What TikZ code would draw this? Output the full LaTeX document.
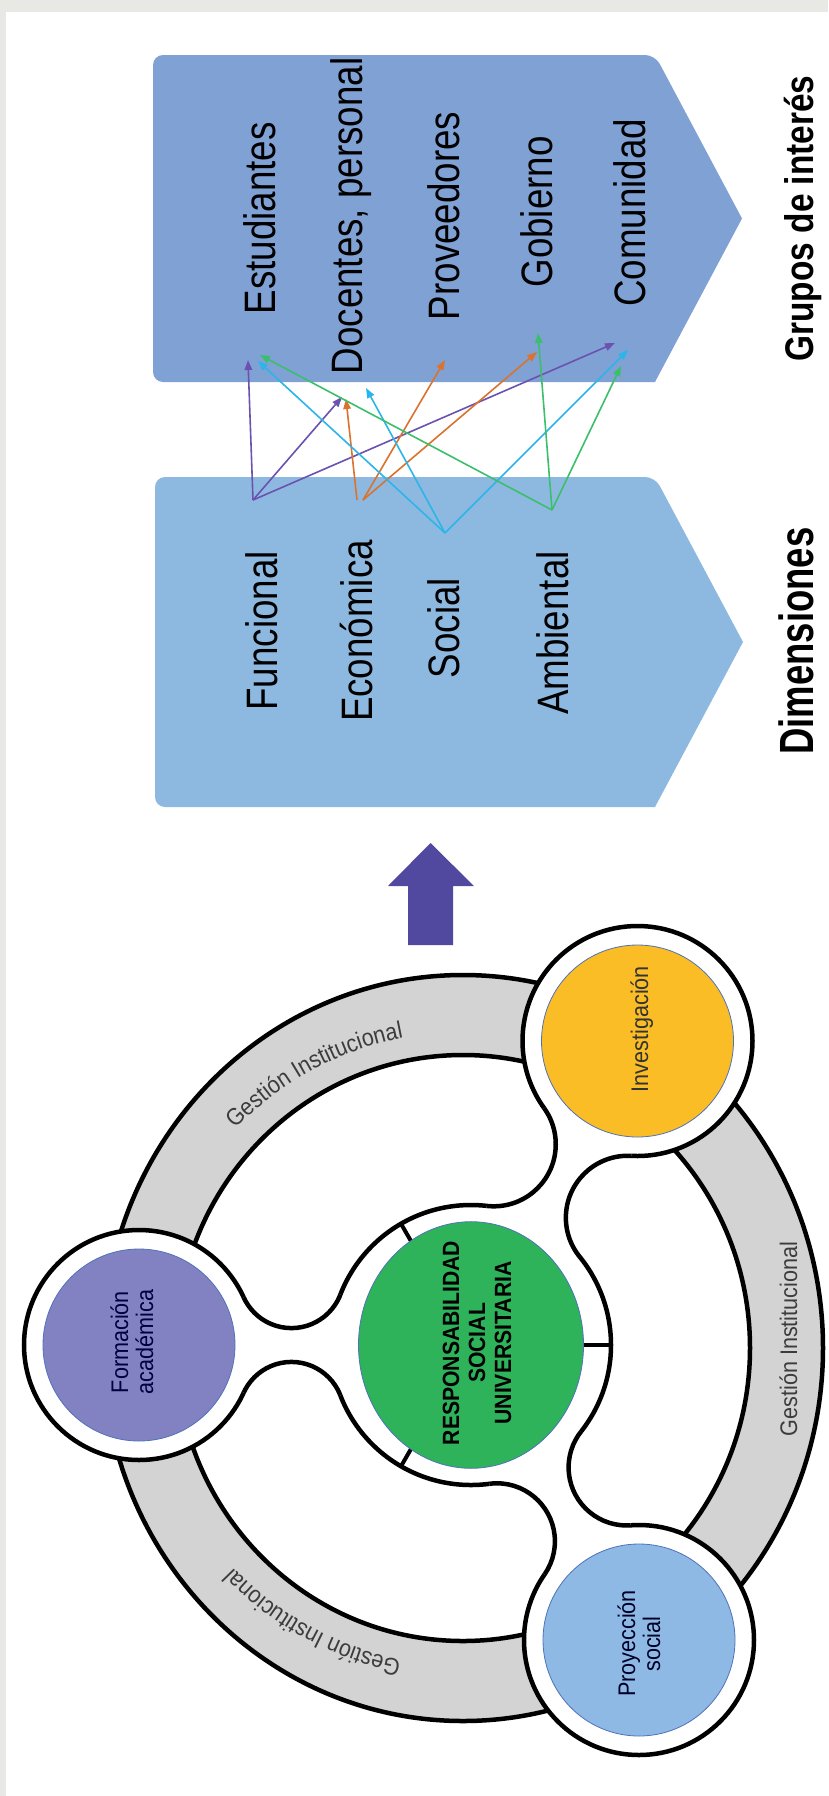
\documentclass[tikz,border=0pt]{standalone}
\usepackage{fontspec}
\setmainfont{Liberation Sans}
\newfontfamily\nsans[FakeStretch=0.835]{Liberation Sans}
\newfontfamily\msans[FakeStretch=0.9]{Liberation Sans}
\newcommand{\gestfont}{\msans\fontsize{24}{26}\selectfont}
\usetikzlibrary{calc,arrows.meta,decorations.text}
\definecolor{bggray}{HTML}{E8E9E4}
\definecolor{boxtop}{HTML}{7FA1D4}
\definecolor{boxbot}{HTML}{8DB9E1}
\definecolor{bigarrow}{HTML}{5148A0}
\definecolor{cpurple}{HTML}{6B52B0}
\definecolor{corange}{HTML}{D9732E}
\definecolor{ccyan}{HTML}{2BB5E8}
\definecolor{cgreen}{HTML}{3CBF6C}
\definecolor{ringgray}{HTML}{D3D3D3}
\definecolor{formfill}{HTML}{8282C2}
\definecolor{invfill}{HTML}{FBBD26}
\definecolor{proyfill}{HTML}{8DB9E4}
\definecolor{rsufill}{HTML}{2EB35A}
\definecolor{circline}{HTML}{4F72B8}
\definecolor{gtext}{HTML}{3C3C3C}
\begin{document}
\begin{tikzpicture}[x=1pt,y=-1pt,
  bigtxt/.style={font=\nsans\fontsize{44}{48}\selectfont, rotate=90, anchor=base, inner sep=0pt, text=black},
  ttl/.style={font=\nsans\bfseries\fontsize{40}{44}\selectfont, rotate=90, anchor=base, inner sep=0pt, text=black},
  smtxt/.style={font=\msans\fontsize{24}{26}\selectfont, rotate=90, anchor=base, inner sep=0pt},
  rsutxt/.style={font=\msans\bfseries\fontsize{23.5}{26}\selectfont, rotate=90, anchor=base, inner sep=0pt, text=black},
  rel/.style={line width=1.6pt, -{Triangle[length=10pt,width=7.5pt]}},
  outl/.style={line width=4.5pt, draw=black},
  gest/.style={decorate, decoration={text along path, text align=center, text color=gtext, text={|\gestfont|Gestión Institucional}}}]

\useasboundingbox (0,0) rectangle (828,1796);
\fill[bggray] (0,0) rectangle (828,1796);
\fill[white] (6,12) rectangle (828,1796);

% ---------- boxes ----------
\fill[boxtop] (655,382) [rounded corners=10pt] -- (153,382) -- (153,55) -- (655,55) [sharp corners] -- (742,218.5) -- cycle;
\fill[boxbot] (655,807) [rounded corners=10pt] -- (155,807) -- (155,477) -- (655,477) [sharp corners] -- (743,642) -- cycle;

\node[bigtxt] (est) at (275,218.5) {Estudiantes};
\node[bigtxt] (doc) at (362,216) {Docentes, personal};
\node[bigtxt] (prov) at (459,216) {Proveedores};
\node[bigtxt] (gob) at (552,212) {Gobierno};
\node[bigtxt] (com) at (645,213) {Comunidad};

\node[bigtxt] (fun) at (277,631) {Funcional};
\node[bigtxt] (eco) at (372,631) {Económica};
\node[bigtxt] (soc) at (459,628) {Social};
\node[bigtxt] (amb) at (568,633) {Ambiental};

\node[ttl] (gi) at (813,218.5) {Grupos de interés};
\node[ttl, font=\nsans\bfseries\fontsize{48}{52}\selectfont] (dim) at (813,641) {\scalebox{0.91}[1]{Dimensiones}};

% ---------- relation arrows ----------
\coordinate (oF) at (253,500);
\coordinate (oE1) at (357,500);
\coordinate (oE2) at (363,500);
\coordinate (oS) at (445,533);
\coordinate (oA) at (552,510);
\coordinate (pF1) at (248,360);
\coordinate (pF2) at (342,397);
\coordinate (pF3) at (615,343);
\coordinate (pE1) at (346,399);
\coordinate (pE2) at (445,360);
\coordinate (pE3) at (537,352);
\coordinate (pS1) at (258,361);
\coordinate (pS2) at (366,388);
\coordinate (pS3) at (628,350);
\coordinate (pA1) at (260,355);
\coordinate (pA2) at (538,333);
\coordinate (pA3) at (621,366);

\draw[rel, color=cpurple] (oF) -- (pF1);
\draw[rel, color=cpurple] (oF) -- (pF2);
\draw[rel, color=cpurple] (oF) -- (pF3);
\draw[rel, color=corange] (oE1) -- (pE1);
\draw[rel, color=corange] (oE2) -- (pE2);
\draw[rel, color=corange] (oE2) -- (pE3);
\draw[rel, color=ccyan] (oS) -- (pS1);
\draw[rel, color=ccyan] (oS) -- (pS2);
\draw[rel, color=ccyan] (oS) -- (pS3);
\draw[rel, color=cgreen] (oA) -- (pA1);
\draw[rel, color=cgreen] (oA) -- (pA2);
\draw[rel, color=cgreen] (oA) -- (pA3);

% ---------- big arrow ----------
\fill[bigarrow] (408,945) -- (408,886) -- (388,886) -- (430.5,843) -- (474,886) -- (453,886) -- (453,945) -- cycle;

% ---------- ring ----------
\coordinate (O) at (463,1348);
\fill[ringgray, even odd rule] (O) ellipse[x radius=360, y radius=373] (O) ellipse[x radius=287, y radius=293];
\draw[outl] (O) ellipse[x radius=360, y radius=373];
\draw[outl] (O) ellipse[x radius=287, y radius=293];

\path[gest] (O) ++(-148.5:316) arc[start angle=-148.5, end angle=-88.5, radius=316];
\path[gest] (O) ++(88.7:318) arc[start angle=88.7, end angle=148.7, radius=318];
\node[smtxt, text=gtext] (gestR) at (797,1339) {Gestión Institucional};

% ---------- central blob ----------
\coordinate (C) at (471,1345);
\coordinate (SF) at (139,1345);
\coordinate (SI) at (637.5,1041);
\coordinate (SP) at (639,1640);
\coordinate (MF) at ($(C)!179.55pt!(SF)$);
\coordinate (PF1) at ($(MF)!69.41pt!90:(SF)$);
\coordinate (PF2) at ($(MF)!69.41pt!-90:(SF)$);
\coordinate (MI) at ($(C)!186.97pt!(SI)$);
\coordinate (PI1) at ($(MI)!76.46pt!90:(SI)$);
\coordinate (PI2) at ($(MI)!76.46pt!-90:(SI)$);
\coordinate (MP) at ($(C)!183.40pt!(SP)$);
\coordinate (PP1) at ($(MP)!74.62pt!90:(SP)$);
\coordinate (PP2) at ($(MP)!74.62pt!-90:(SP)$);

% white interior
\fill[white] (C) circle[radius=140];
\foreach \s in {SF,SI,SP} { \fill[white] (\s) circle[radius=115]; }
\foreach \s/\p/\r in {SF/PF/52.5, SI/PI/62, SP/PP/58} {
  \begin{scope}
    \clip (C) -- (\p1) -- (\s) -- (\p2) -- cycle;
    \fill[white, even odd rule] (C) -- (\p1) -- (\s) -- (\p2) -- cycle
      (\p1) circle[radius=\r] (\p2) circle[radius=\r];
  \end{scope}
}
% outline: circle parts outside the necks
\begin{scope}[even odd rule]
  \clip (-20,-20) rectangle (850,1820)
    (C) -- (PF1) -- (SF) -- (PF2) -- cycle
    (C) -- (PI1) -- (SI) -- (PI2) -- cycle
    (C) -- (PP1) -- (SP) -- (PP2) -- cycle;
  \draw[outl] (C) circle[radius=140];
  \foreach \s in {SF,SI,SP} { \draw[outl] (\s) circle[radius=115]; }
\end{scope}
% outline: fillet arcs inside the necks
\foreach \s/\p/\r in {SF/PF/52.5, SI/PI/62, SP/PP/58} {
  \begin{scope}
    \clip (C) -- (\p1) -- (\s) -- (\p2) -- cycle;
    \draw[outl] (\p1) circle[radius=\r] (\p2) circle[radius=\r];
  \end{scope}
}

% dividers
\draw[line width=4pt] ($(C)+(0:100)$) -- ($(C)+(0:140)$);
\draw[line width=4pt] ($(C)+(120:100)$) -- ($(C)+(120:140)$);
\draw[line width=4pt] ($(C)+(-120:100)$) -- ($(C)+(-120:140)$);

% colored circles
\filldraw[fill=formfill, draw=circline, line width=0.8pt] (SF) circle[radius=96];
\filldraw[fill=invfill, draw=circline, line width=0.8pt] (SI) circle[radius=96];
\filldraw[fill=proyfill, draw=circline, line width=0.8pt] (SP) circle[radius=96];
\filldraw[fill=rsufill, draw=circline, line width=0.8pt] (C) ellipse[x radius=112.5, y radius=123.3];

% circle texts
\node[smtxt, text=black!80] (inv) at (648,1029) {Investigación};
\node[smtxt, text=black!75!blue] (form1) at (128,1342) {Formación};
\node[smtxt, text=black!75!blue] (form2) at (153,1342) {académica};
\node[smtxt, text=black!85!blue] (proy1) at (635,1643.5) {Proyección};
\node[smtxt, text=black!85!blue] (proy2) at (660,1644) {social};

\node[rsutxt] (rsu1) at (459,1343) {RESPONSABILIDAD};
\node[rsutxt] (rsu2) at (485,1343) {SOCIAL};
\node[rsutxt] (rsu3) at (511,1343) {UNIVERSITARIA};

\end{tikzpicture}
\end{document}
